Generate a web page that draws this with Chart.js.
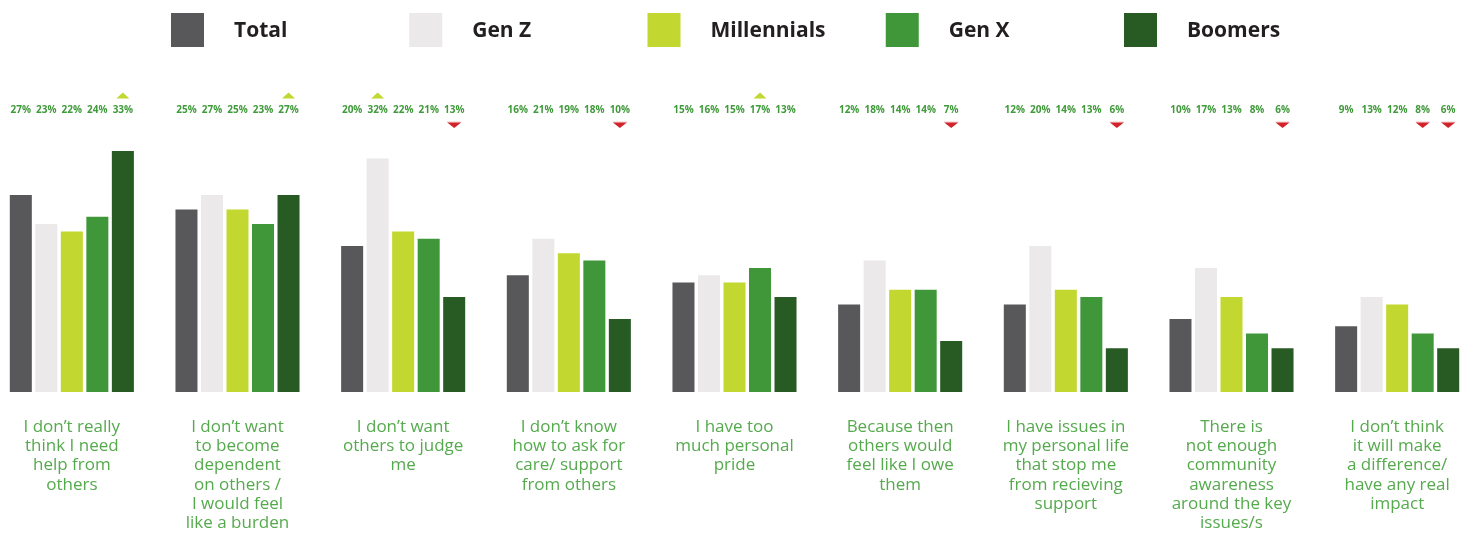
<!DOCTYPE html>
<html>
<head>
<meta charset="utf-8">
<script src="https://cdn.jsdelivr.net/npm/chart.js@4.4.1/dist/chart.umd.min.js"></script>
<style>
  html, body { margin: 0; padding: 0; background: #ffffff; overflow: hidden; width: 1470px; height: 533px; }
  #wrap { position: absolute; left: -11px; top: 0; width: 1491px; height: 533px; }
</style>
</head>
<body>
<div id="wrap"><canvas id="c"></canvas></div>
<script>
// ---- data ----
const categories = [
  ['I don\u2019t really', 'think I need', 'help from', 'others'],
  ['I don\u2019t want', 'to become', 'dependent', 'on others /', 'I would feel', 'like a burden'],
  ['I don\u2019t want', 'others to judge', 'me'],
  ['I don\u2019t know', 'how to ask for', 'care/ support', 'from others'],
  ['I have too', 'much personal', 'pride'],
  ['Because then', 'others would', 'feel like I owe', 'them'],
  ['I have issues in', 'my personal life', 'that stop me', 'from recieving', 'support'],
  ['There is', 'not enough', 'community', 'awareness', 'around the key', 'issues/s'],
  ['I don\u2019t think', 'it will make', 'a difference/', 'have any real', 'impact']
];
const seriesNames = ['Total', 'Gen Z', 'Millennials', 'Gen X', 'Boomers'];
const total       = [27, 25, 20, 16, 15, 12, 12, 10, 9];
const genZ        = [23, 27, 32, 21, 16, 18, 20, 17, 13];
const millennials = [22, 25, 22, 19, 15, 14, 14, 13, 12];
const genX        = [24, 23, 21, 18, 17, 14, 13, 8, 8];
const boomers     = [33, 27, 13, 10, 13, 7, 6, 6, 6];
// significance markers: 1 = up, -1 = down, 0 = none
const totalArrows       = [0, 0, 0, 0, 0, 0, 0, 0, 0];
const genZArrows        = [0, 0, 1, 0, 0, 0, 0, 0, 0];
const millennialsArrows = [0, 0, 0, 0, 0, 0, 0, 0, 0];
const genXArrows        = [0, 0, 0, 0, 1, 0, 0, 0, -1];
const boomersArrows     = [1, 1, -1, -1, 0, -1, -1, -1, -1];

// ---- styles ----
const colors = ['#58585a', '#ebe9ea', '#c2d72f', '#40973a', '#285a24'];
const seriesValues = [total, genZ, millennials, genX, boomers];
const seriesArrows = [totalArrows, genZArrows, millennialsArrows, genXArrows, boomersArrows];

const overlay = {
  id: 'overlay',
  afterDatasetsDraw(chart) {
    const ctx = chart.ctx;
    ctx.save();
    // value labels + arrows
    ctx.textAlign = 'center';
    ctx.textBaseline = 'middle';
    ctx.font = 'bold 10px "Open Sans"';
    chart.data.datasets.forEach((ds, i) => {
      const meta = chart.getDatasetMeta(i);
      meta.data.forEach((bar, j) => {
        ctx.fillStyle = '#3f9a3a';
        ctx.fillText(ds.data[j] + '%', bar.x, 110.5);
        const a = seriesArrows[i][j];
        if (a === 1) {
          ctx.fillStyle = '#c2d72f';
          ctx.beginPath();
          ctx.moveTo(bar.x - 6.5, 98.5);
          ctx.lineTo(bar.x + 6.5, 98.5);
          ctx.lineTo(bar.x, 92.5);
          ctx.closePath();
          ctx.fill();
        } else if (a === -1) {
          ctx.fillStyle = '#f4c9ca';
          ctx.fillRect(bar.x - 7, 121.5, 14, 1);
          ctx.fillStyle = '#d2232a';
          ctx.beginPath();
          ctx.moveTo(bar.x - 7, 122.5);
          ctx.lineTo(bar.x + 7, 122.5);
          ctx.lineTo(bar.x, 128);
          ctx.closePath();
          ctx.fill();
        }
      });
    });
    // legend
    ctx.textAlign = 'left';
    ctx.font = 'bold 21px "Open Sans"';
    chart.data.datasets.forEach((ds, i) => {
      const x = 182 + i * 238.25;
      ctx.fillStyle = ds.backgroundColor;
      ctx.fillRect(x, 13, 33, 34);
      ctx.fillStyle = '#231f20';
      ctx.fillText(ds.label, x + 63, 31);
    });
    ctx.restore();
  }
};

new Chart(document.getElementById('c'), {
  type: 'bar',
  data: {
    labels: categories,
    datasets: seriesNames.map((name, i) => ({
      label: name,
      data: seriesValues[i],
      backgroundColor: colors[i],
      borderWidth: 0,
      categoryPercentage: 0.77,
      barPercentage: 0.863
    }))
  },
  options: {
    responsive: true,
    maintainAspectRatio: false,
    animation: false,
    layout: { padding: { top: 100, left: 0, right: 0, bottom: 0 } },
    plugins: { legend: { display: false }, tooltip: { enabled: false } },
    scales: {
      x: {
        offset: true,
        grid: { display: false, drawTicks: false },
        border: { display: false },
        ticks: {
          autoSkip: false,
          maxRotation: 0,
          minRotation: 0,
          padding: 25.5,
          color: '#55aa4d',
          font: { family: '"Open Sans"', size: 17, lineHeight: '19.2px' }
        },
        afterFit(scale) { scale.height = 141; }
      },
      y: {
        display: false,
        min: 0,
        max: 40
      }
    }
  },
  plugins: [overlay]
});
</script>
</body>
</html>
